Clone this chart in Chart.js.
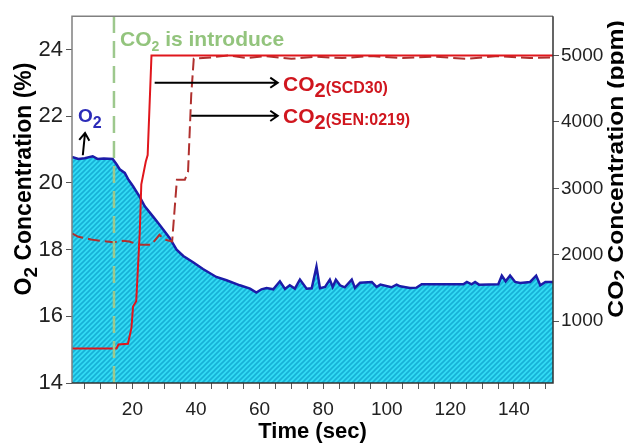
<!DOCTYPE html>
<html>
<head>
<meta charset="utf-8">
<script src="https://cdn.jsdelivr.net/npm/chart.js@4.4.1/dist/chart.umd.min.js"></script>
<style>
  body { margin: 0; background: #fff; }
  #wrap { width: 624px; height: 448px; position: relative; }
</style>
</head>
<body>
<div id="wrap"><canvas id="chart"></canvas></div>
<script>
// O2 sensor (left axis, %)
const o2Time = [1, 3, 5, 7.5, 9, 11, 13.8, 15, 16, 17.6, 18.6, 20.2, 22.3, 23.9, 26.5, 28.6, 31.7,
  33.9, 36, 39.1, 42.2, 46.4, 49.6, 53.8, 57, 59, 60.6, 62.2, 64.3, 66.4, 68, 69.5, 71.1, 72.7,
  74.8, 76.4, 77.9, 79, 80.6, 82.1, 83, 84, 85.3, 86.8, 89, 90, 91.6, 95.3, 96.8, 98, 101.5, 103.1,
  104.2, 107.3, 109.4, 111, 124.1, 125.2, 126.7, 127.8, 129, 135.1, 136.2, 137.4, 138.8, 140.4,
  142, 145.1, 147, 148.3, 149.9, 152.3];
const o2Value = [20.78, 20.72, 20.74, 20.8, 20.72, 20.73, 20.72, 20.56, 20.41, 20.3, 20.12, 19.9,
  19.58, 19.3, 18.99, 18.74, 18.35, 18.0, 17.81, 17.62, 17.42, 17.18, 17.08, 16.93, 16.83, 16.71,
  16.81, 16.85, 16.81, 17.05, 16.82, 16.93, 16.83, 17.1, 16.83, 16.84, 17.49, 16.84, 16.88, 17.1,
  16.88, 17.1, 16.93, 16.87, 17.1, 16.85, 17.01, 17.03, 16.88, 16.95, 16.87, 16.95, 16.9, 16.85,
  16.86, 16.96, 16.96, 17.03, 16.96, 17.03, 16.95, 16.96, 17.22, 17.05, 17.22, 17.03, 17.0, 17.03,
  17.22, 16.93, 17.03, 17.03];

// CO2 SCD30 (right axis, ppm)
const scdTime = [1, 15, 15.6, 18.6, 19.7, 20.2, 21.2, 22.3, 22.8, 24.2, 24.8, 26, 152.3];
const scdValue = [590, 590, 650, 660, 900, 1220, 1300, 2320, 3060, 3400, 3500, 5000, 5000];

// CO2 SEN0219 (right axis, ppm)
const senTime = [1, 3, 7, 10, 14, 17, 19, 22, 26, 28.5, 30, 32.5, 33.3, 34, 36.5, 37.5, 38.5, 39.3,
  45, 50, 56, 62, 70, 78, 86, 95, 105, 115, 125, 135, 145, 152.3];
const senValue = [2320, 2270, 2230, 2210, 2190, 2210, 2200, 2150, 2150, 2300, 2230, 2200, 2700,
  3130, 3130, 3250, 4400, 4950, 4970, 5000, 4960, 4990, 4950, 4980, 4960, 4990, 4960, 4980, 4950,
  4990, 4960, 4970];

const introduceTime = 14.2;
const xTickLabels = [20, 40, 60, 80, 100, 120, 140];
const rightTicks = [1000, 2000, 3000, 4000, 5000];

const toPoints = (xs, ys) => xs.map((x, i) => ({ x: x, y: ys[i] }));

const ctx = document.getElementById('chart').getContext('2d');

// hatched cyan fill
function hatch() {
    const c = document.createElement('canvas');
    c.width = 5; c.height = 5;
    const g = c.getContext('2d');
    g.fillStyle = '#33daf3';
    g.fillRect(0, 0, 5, 5);
    g.strokeStyle = '#17b0d6';
    g.lineWidth = 1.6;
    g.beginPath();
    g.moveTo(-1, 6); g.lineTo(6, -1);
    g.moveTo(-3.5, 3.5); g.lineTo(3.5, -3.5);
    g.moveTo(1.5, 8.5); g.lineTo(8.5, 1.5);
    g.stroke();
    return ctx.createPattern(c, 'repeat');
}

function rich(c, parts, x, y, align) {
    let w = 0;
    parts.forEach(p => { c.font = p.font; w += c.measureText(p.text).width; });
    let cx = align === 'center' ? x - w / 2 : x;
    parts.forEach(p => {
        c.font = p.font;
        c.fillText(p.text, cx, y + (p.dy || 0));
        cx += c.measureText(p.text).width;
    });
}

function arrow(c, x1, y1, x2, y2) {
    const a = Math.atan2(y2 - y1, x2 - x1);
    c.beginPath();
    c.moveTo(x1, y1); c.lineTo(x2, y2);
    c.moveTo(x2 - 9 * Math.cos(a - 0.6), y2 - 9 * Math.sin(a - 0.6));
    c.lineTo(x2, y2);
    c.lineTo(x2 - 9 * Math.cos(a + 0.6), y2 - 9 * Math.sin(a + 0.6));
    c.stroke();
}

const F = '"Liberation Sans", Arial, sans-serif';

const decor = {
    id: 'decor',
    afterDraw(chart) {
        const c = chart.ctx, a = chart.chartArea;
        const sx = chart.scales.x, sy = chart.scales.y, sr = chart.scales.y1;
        c.save();
        // frame
        c.lineWidth = 1.5;
        c.strokeStyle = '#808080';
        c.beginPath();
        c.moveTo(a.left, a.bottom); c.lineTo(a.left, a.top); c.lineTo(a.right, a.top);
        c.stroke();
        c.strokeStyle = '#333';
        c.beginPath();
        c.moveTo(a.right, a.top); c.lineTo(a.right, a.bottom); c.lineTo(a.left, a.bottom);
        c.stroke();

        // axis titles
        c.fillStyle = '#000';
        c.textBaseline = 'alphabetic';
        c.save();
        c.translate(31, 179);
        c.rotate(-Math.PI / 2);
        rich(c, [
            { text: 'O', font: 'bold 23px ' + F },
            { text: '2', font: 'bold 19px ' + F, dy: 6 },
            { text: ' Concentration (%)', font: 'bold 23px ' + F }
        ], 0, 0, 'center');
        c.restore();

        c.save();
        c.translate(623, 169);
        c.rotate(-Math.PI / 2);
        c.scale(1.12, 1);
        rich(c, [
            { text: 'CO', font: 'bold 22px ' + F },
            { text: '2', font: 'bold 18px ' + F, dy: 4 },
            { text: ' Concentration (ppm)', font: 'bold 22px ' + F }
        ], 0, 0, 'center');
        c.restore();

        c.font = 'bold 22px ' + F;
        c.textAlign = 'center';
        c.fillText('Time (sec)', (a.left + a.right) / 2, 438);
        c.textAlign = 'left';

        // "CO2 is introduce"
        c.fillStyle = '#93c47d';
        rich(c, [
            { text: 'CO', font: 'bold 21px ' + F },
            { text: '2', font: 'bold 14px ' + F, dy: 5 },
            { text: ' is introduce', font: 'bold 21px ' + F }
        ], sx.getPixelForValue(16.1), sy.getPixelForValue(24.12));

        // O2 label + arrow
        c.fillStyle = '#2b2bb8';
        rich(c, [
            { text: 'O', font: 'bold 19px ' + F },
            { text: '2', font: 'bold 16px ' + F, dy: 6 }
        ], sx.getPixelForValue(2.9), sy.getPixelForValue(21.84));
        c.strokeStyle = '#000';
        c.lineWidth = 2;
        arrow(c, sx.getPixelForValue(4.4), sy.getPixelForValue(20.83),
            sx.getPixelForValue(5.1), sy.getPixelForValue(21.5));

        // CO2 sensor labels + arrows
        arrow(c, sx.getPixelForValue(27), sr.getPixelForValue(4590),
            sx.getPixelForValue(65.7), sr.getPixelForValue(4590));
        arrow(c, sx.getPixelForValue(38.5), sr.getPixelForValue(4090),
            sx.getPixelForValue(65.7), sr.getPixelForValue(4090));
        c.fillStyle = '#d0161e';
        rich(c, [
            { text: 'CO', font: 'bold 21px ' + F },
            { text: '2', font: 'bold 20px ' + F, dy: 6 },
            { text: '(SCD30)', font: 'bold 16px ' + F, dy: 2 }
        ], sx.getPixelForValue(67.4), sr.getPixelForValue(4457));
        rich(c, [
            { text: 'CO', font: 'bold 21px ' + F },
            { text: '2', font: 'bold 20px ' + F, dy: 6 },
            { text: '(SEN:0219)', font: 'bold 16px ' + F, dy: 2 }
        ], sx.getPixelForValue(67.4), sr.getPixelForValue(3990));
        c.restore();
    }
};

const data = {
    datasets: [
        {
            label: 'CO2 introduced',
            data: [{ x: introduceTime, y: 14 }, { x: introduceTime, y: 25 }],
            yAxisID: 'y',
            borderColor: '#9dc88d',
            borderWidth: 2.5,
            borderDash: [17, 8],
            pointRadius: 0,
            order: 1
        },
        {
            label: 'CO2 (SCD30)',
            data: toPoints(scdTime, scdValue),
            yAxisID: 'y1',
            borderColor: '#e0161c',
            borderWidth: 2,
            pointRadius: 0,
            order: 2
        },
        {
            label: 'CO2 (SEN:0219)',
            data: toPoints(senTime, senValue),
            yAxisID: 'y1',
            borderColor: '#b0302e',
            borderWidth: 2,
            borderDash: [12, 5],
            pointRadius: 0,
            order: 3
        },
        {
            label: 'O2',
            data: toPoints(o2Time, o2Value),
            yAxisID: 'y',
            borderColor: '#1c1ca8',
            borderWidth: 2.5,
            backgroundColor: hatch(),
            fill: 'start',
            pointRadius: 0,
            order: 4
        }
    ]
};

const tickGrid = { drawOnChartArea: false, drawTicks: true, tickLength: 6, color: '#555' };

const options = {
    responsive: true,
    maintainAspectRatio: false,
    animation: false,
    layout: { padding: { top: 8, left: 0, right: 0, bottom: 0 } },
    plugins: { legend: { display: false }, tooltip: { enabled: false } },
    elements: { line: { tension: 0 } },
    scales: {
        x: {
            type: 'linear',
            min: 1,
            max: 152.3,
            border: { display: false },
            grid: tickGrid,
            ticks: {
                stepSize: 5,
                autoSkip: false,
                includeBounds: false,
                maxRotation: 0,
                padding: 9,
                color: '#222',
                font: { family: F, size: 19 },
                callback: v => xTickLabels.includes(v) ? v : ''
            },
            afterFit: s => { s.height = 65; }
        },
        y: {
            position: 'left',
            min: 14,
            max: 25,
            border: { display: false },
            grid: tickGrid,
            ticks: {
                stepSize: 2,
                includeBounds: false,
                padding: 3,
                color: '#222',
                font: { family: F, size: 22 }
            },
            afterFit: s => { s.width = 72; }
        },
        y1: {
            position: 'right',
            min: 70,
            max: 5590,
            border: { display: false },
            grid: tickGrid,
            afterBuildTicks: s => { s.ticks = rightTicks.map(v => ({ value: v })); },
            ticks: {
                padding: 2,
                color: '#222',
                font: { family: F, size: 19 },
                callback: v => String(v)
            },
            afterFit: s => { s.width = 71; }
        }
    }
};

const myChart = new Chart(ctx, {
    type: 'line',
    data: data,
    options: options,
    plugins: [decor]
});
</script>
</body>
</html>
